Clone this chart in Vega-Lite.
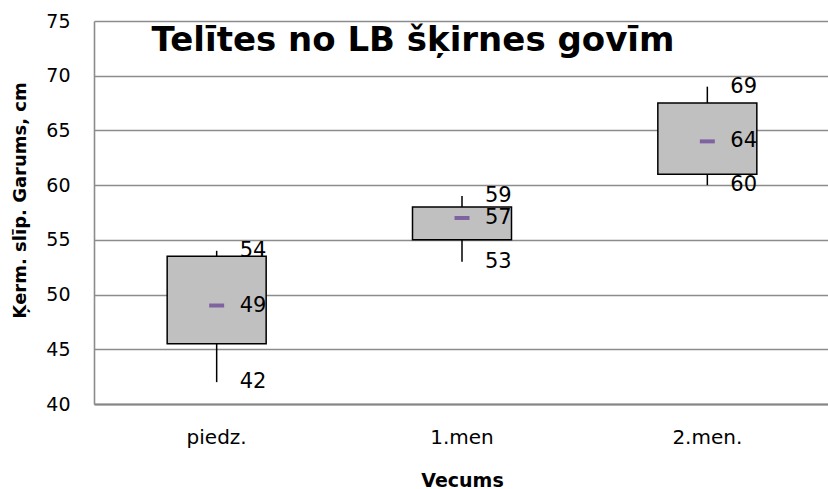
{
  "$schema": "https://vega.github.io/schema/vega-lite/v6.json",
  "width": 736,
  "height": 383,
  "autosize": {"type": "none"},
  "padding": {"left": 94, "top": 21, "right": 0, "bottom": 85},
  "background": "white",
  "config": {"view": {"stroke": null}, "font": "DejaVu Sans"},
  "data": {
    "values": [
      {"Vecums": "piedz.", "min": 42, "q1": 45.5, "q3": 53.5, "max": 54, "mean": 49},
      {"Vecums": "1.men", "min": 53, "q1": 55, "q3": 58, "max": 59, "mean": 57},
      {"Vecums": "2.men.", "min": 60, "q1": 61, "q3": 67.5, "max": 69, "mean": 64}
    ]
  },
  "encoding": {
    "x": {
      "field": "Vecums",
      "type": "nominal",
      "sort": null,
      "scale": {"paddingInner": 0, "paddingOuter": 0},
      "axis": {
        "title": "Vecums",
        "titleFont": "DejaVu Sans",
        "titleFontSize": 19,
        "titleFontWeight": "bold",
        "titleColor": "black",
        "titleBaseline": "alphabetic",
        "titleY": 82,
        "labelAngle": 0,
        "labelFont": "DejaVu Sans",
        "labelFontSize": 20,
        "labelColor": "black",
        "labelPadding": 23,
        "domainColor": "#868686",
        "domainWidth": 2,
        "ticks": false,
        "tickSize": 0,
        "grid": false
      }
    }
  },
  "layer": [
    {
      "mark": {"type": "rule", "color": "black", "strokeWidth": 1.5},
      "encoding": {
        "y": {
          "field": "min",
          "type": "quantitative",
          "scale": {"domain": [40, 75], "nice": false, "zero": false},
          "axis": {
            "title": "Ķerm. slīp. Garums, cm",
            "titleFont": "DejaVu Sans",
            "titleFontSize": 18,
            "titleFontWeight": "bold",
            "titleColor": "black",
            "titleAngle": -90,
            "titleX": -74,
            "titleY": 179,
            "titleAlign": "center",
            "titleBaseline": "middle",
            "values": [40, 45, 50, 55, 60, 65, 70, 75],
            "labelFont": "DejaVu Sans",
            "labelFontSize": 19,
            "labelColor": "black",
            "labelPadding": 24,
            "ticks": false,
            "tickSize": 0,
            "grid": true,
            "gridColor": "#8c8c8c",
            "gridWidth": 1.6,
            "domainColor": "#8c8c8c",
            "domainWidth": 1.6
          }
        },
        "y2": {"field": "max"}
      }
    },
    {
      "mark": {"type": "bar", "fill": "#c0c0c0", "stroke": "black", "strokeWidth": 1.5, "width": 99},
      "encoding": {
        "y": {"field": "q1", "type": "quantitative"},
        "y2": {"field": "q3"}
      }
    },
    {
      "mark": {"type": "tick", "color": "#7f63a1", "thickness": 4, "size": 15, "opacity": 1},
      "encoding": {
        "y": {"field": "mean", "type": "quantitative"}
      }
    },
    {
      "mark": {"type": "text", "dx": 23, "align": "left", "baseline": "middle", "fontSize": 21, "font": "DejaVu Sans", "color": "black"},
      "encoding": {
        "y": {"field": "max", "type": "quantitative"},
        "text": {"field": "max", "type": "quantitative"}
      }
    },
    {
      "mark": {"type": "text", "dx": 23, "align": "left", "baseline": "middle", "fontSize": 21, "font": "DejaVu Sans", "color": "black"},
      "encoding": {
        "y": {"field": "mean", "type": "quantitative"},
        "text": {"field": "mean", "type": "quantitative"}
      }
    },
    {
      "mark": {"type": "text", "dx": 23, "align": "left", "baseline": "middle", "fontSize": 21, "font": "DejaVu Sans", "color": "black"},
      "encoding": {
        "y": {"field": "min", "type": "quantitative"},
        "text": {"field": "min", "type": "quantitative"}
      }
    },
    {
      "data": {"values": [{"title": "Telītes no LB šķirnes govīm"}]},
      "mark": {"type": "text", "dx": -49, "align": "center", "baseline": "alphabetic", "fontSize": 34, "fontWeight": "bold", "font": "DejaVu Sans", "color": "black"},
      "encoding": {
        "x": {"datum": "1.men", "type": "nominal"},
        "y": {"datum": 72.26, "type": "quantitative"},
        "text": {"field": "title", "type": "nominal"}
      }
    }
  ]
}
